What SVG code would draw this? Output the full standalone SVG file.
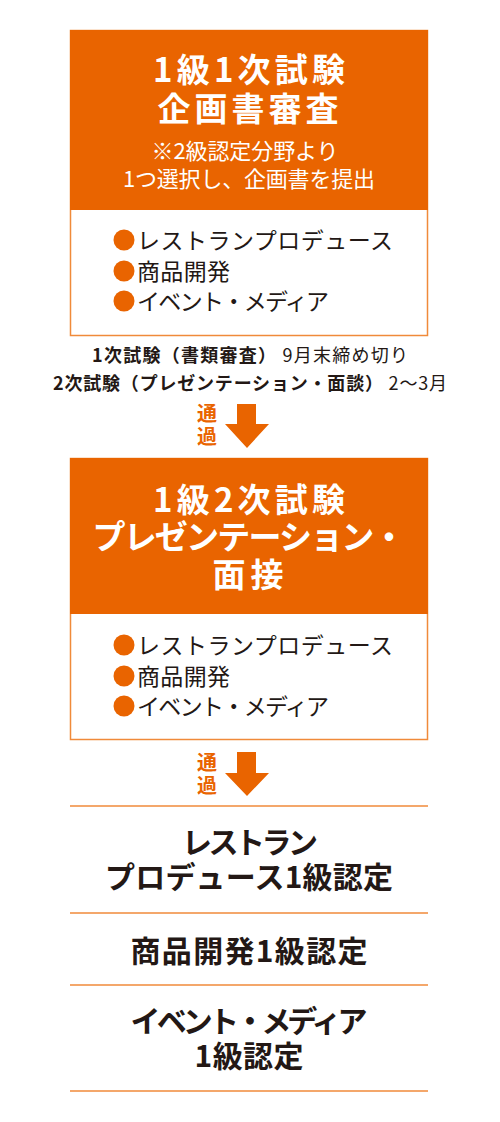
<svg xmlns="http://www.w3.org/2000/svg" width="500" height="1122" viewBox="0 0 500 1122">
<style>
text{font-family:"Noto Sans CJK JP","Noto Sans",sans-serif;}
.hd{fill:#E96400;}
.bx{fill:#fff;stroke:#F08A3A;stroke-width:1.5;}
.tt{fill:#fff;font-weight:bold;font-size:33px;text-anchor:middle;}
.st{fill:#fff;font-size:22px;text-anchor:middle;}
.li{fill:#231815;font-size:23px;}
.bul{fill:#E96400;}
.nt{fill:#231815;font-size:18px;text-anchor:middle;}
.b{font-weight:bold;}
.ps{fill:#E96400;font-weight:bold;font-size:20px;text-anchor:middle;}
.ar{fill:#E96400;}
.sep{stroke:#F08A3A;stroke-width:1.5;}
.rs{fill:#231815;font-weight:bold;font-size:30px;text-anchor:middle;}
</style>
<g id="node-stage1">
<rect class="bx" x="70.5" y="30.5" width="357" height="305"/>
<rect class="hd" x="70" y="30" width="358" height="180"/>
<text class="tt" x="249" y="82" textLength="192" lengthAdjust="spacing">1級1次試験</text>
<text class="tt" x="248" y="121" textLength="181" lengthAdjust="spacing">企画書審査</text>
<text class="st" x="245" y="159" textLength="187" lengthAdjust="spacing">※2級認定分野より</text>
<text class="st" x="249" y="187" textLength="252" lengthAdjust="spacing">1つ選択し、企画書を提出</text>
<circle class="bul" cx="124" cy="240" r="10.5"/>
<circle class="bul" cx="124" cy="271" r="10.5"/>
<circle class="bul" cx="124" cy="301" r="10.5"/>
<text class="li" x="137" y="249" textLength="256" lengthAdjust="spacing">レストランプロデュース</text>
<text class="li" x="137" y="280" textLength="93" lengthAdjust="spacing">商品開発</text>
<text class="li" x="137" y="310" textLength="192" lengthAdjust="spacing">イベント・メディア</text>
</g>
<g id="node-note">
<text class="nt" x="250" y="362" textLength="316" lengthAdjust="spacing"><tspan class="b">1次試験（書類審査）</tspan> 9月末締め切り</text>
<text class="nt" x="250" y="390" textLength="394" lengthAdjust="spacing"><tspan class="b">2次試験（プレゼンテーション・面談）</tspan> 2〜3月</text>
</g>
<g id="node-stage2">
<rect class="bx" x="70.5" y="458.5" width="357" height="281"/>
<rect class="hd" x="70" y="458" width="358" height="156"/>
<text class="tt" x="249" y="512" textLength="192" lengthAdjust="spacing">1級2次試験</text>
<text class="tt" x="249" y="549" textLength="313" lengthAdjust="spacing">プレゼンテーション・</text>
<text class="tt" x="248" y="587" textLength="71" lengthAdjust="spacing">面接</text>
<circle class="bul" cx="124" cy="645" r="10.5"/>
<circle class="bul" cx="124" cy="676" r="10.5"/>
<circle class="bul" cx="124" cy="706" r="10.5"/>
<text class="li" x="137" y="654" textLength="256" lengthAdjust="spacing">レストランプロデュース</text>
<text class="li" x="137" y="685" textLength="93" lengthAdjust="spacing">商品開発</text>
<text class="li" x="137" y="715" textLength="192" lengthAdjust="spacing">イベント・メディア</text>
</g>
<g id="connectors">
<text class="ps" x="207" y="421">通</text>
<text class="ps" x="207" y="444">過</text>
<polygon class="ar" points="237,404 256,404 256,424 269,424 247,448 225,424 237,424"/>
<text class="ps" x="207" y="770">通</text>
<text class="ps" x="207" y="793">過</text>
<polygon class="ar" points="237,752 256,752 256,773 269,773 247,796 225,773 237,773"/>
</g>
<g id="node-results">
<line class="sep" x1="70" y1="806" x2="428" y2="806"/>
<line class="sep" x1="70" y1="913" x2="428" y2="913"/>
<line class="sep" x1="70" y1="985" x2="428" y2="985"/>
<line class="sep" x1="70" y1="1091" x2="428" y2="1091"/>
</g>
<g id="node-result1">
<text class="rs" x="250" y="853" textLength="136" lengthAdjust="spacing">レストラン</text>
<text class="rs" x="249" y="888" textLength="288" lengthAdjust="spacing">プロデュース1級認定</text>
</g>
<g id="node-result2">
<text class="rs" x="249" y="962" textLength="237" lengthAdjust="spacing">商品開発1級認定</text>
</g>
<g id="node-result3">
<text class="rs" x="249" y="1032" textLength="237" lengthAdjust="spacing">イベント・メディア</text>
<text class="rs" x="249" y="1067" textLength="109" lengthAdjust="spacing">1級認定</text>
</g>
</svg>
